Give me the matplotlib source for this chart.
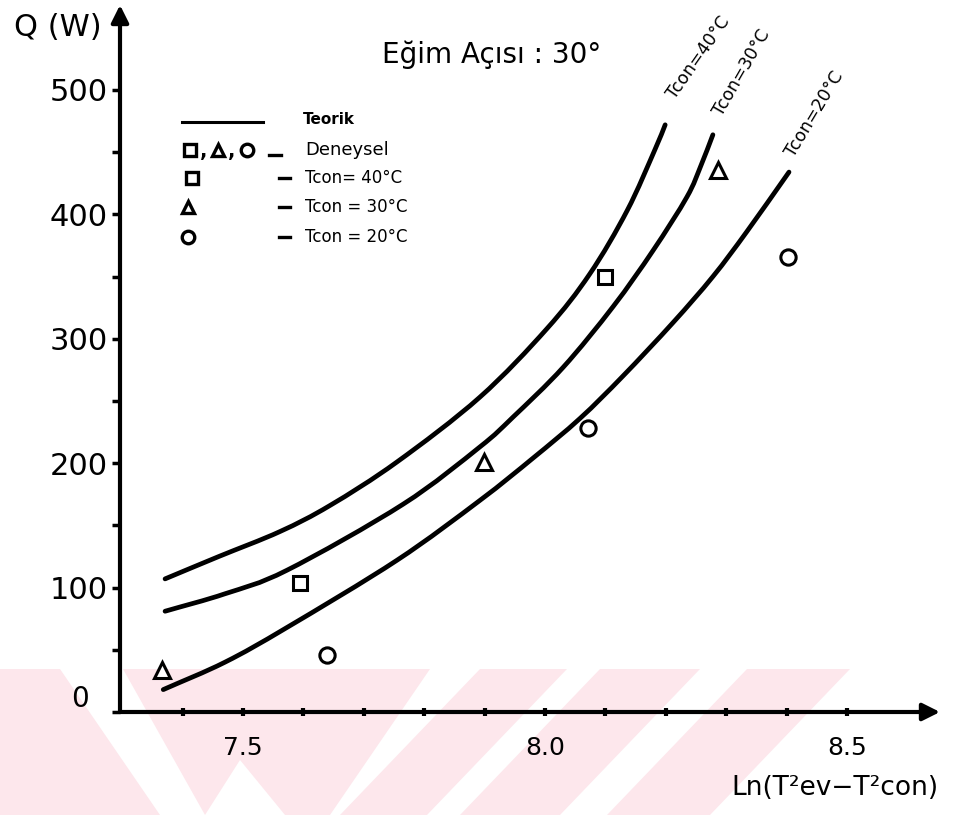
import numpy as np
import matplotlib
matplotlib.use("Agg")
import matplotlib.pyplot as plt
from matplotlib.patches import Polygon, PathPatch
from matplotlib.path import Path

plt.rcParams['font.family'] = ['DejaVu Sans']

# theoretical curves (Teorik), one per condenser temperature
x40 = [7.371, 7.460, 7.561, 7.644, 7.755, 7.892, 8.003, 8.074, 8.136, 8.182, 8.199]
y40 = [107, 125, 145, 166, 201, 253, 308, 352, 403, 452, 472]

x30 = [7.371, 7.470, 7.573, 7.765, 7.892, 7.947, 8.030, 8.113, 8.179, 8.235, 8.258, 8.278]
y30 = [81, 95, 114, 167, 213, 237, 277, 326, 371, 414, 439, 464]

x20 = [7.368, 7.470, 7.573, 7.755, 7.892, 7.980, 8.058, 8.129, 8.212, 8.278, 8.334, 8.404]
y20 = [18, 40, 68, 122, 170, 204, 236, 270, 313, 350, 386, 434]

# experimental points (Deneysel)
sq_x = [7.595, 8.099]
sq_y = [104, 350]
tri_x = [7.366, 7.899, 8.286]
tri_y = [34, 201, 436]
cir_x = [7.639, 8.071, 8.402]
cir_y = [46, 228, 366]

curve_names = ['Tcon=40°C', 'Tcon=30°C', 'Tcon=20°C']
legend_rows = ['Tcon= 40°C', 'Tcon = 30°C', 'Tcon = 20°C']

W, H = 963, 815
fig = plt.figure(figsize=(W / 100, H / 100), dpi=100)
fig.patch.set_facecolor('white')


def fx(px):
    return px / W


def fy(py):
    return 1 - py / H


def smooth_path(xs, ys):
    # Catmull-Rom through the points, written as cubic Bezier segments
    p = np.column_stack([xs, ys]).astype(float)
    p = np.vstack([2 * p[0] - p[1], p, 2 * p[-1] - p[-2]])
    verts = [tuple(p[1])]
    codes = [Path.MOVETO]
    for i in range(1, len(p) - 2):
        c1 = p[i] + (p[i + 1] - p[i - 1]) / 6
        c2 = p[i + 1] - (p[i + 2] - p[i]) / 6
        verts += [tuple(c1), tuple(c2), tuple(p[i + 1])]
        codes += [Path.CURVE4] * 3
    return Path(verts, codes)


# pale pink watermark stripes along the bottom
pink = '#fde7ec'
stripes = [
    [(0, 669), (60, 669), (160, 815), (0, 815)],
    [(123, 669), (430, 669), (330, 815), (285, 815), (240, 760), (205, 815)],
    [(480, 669), (567, 669), (427, 815), (340, 815)],
    [(600, 669), (700, 669), (560, 815), (460, 815)],
    [(747, 669), (850, 669), (710, 815), (607, 815)],
]
for pts in stripes:
    poly = Polygon([(fx(a), fy(b)) for a, b in pts], closed=True,
                   transform=fig.transFigure, facecolor=pink,
                   edgecolor='none', zorder=-1)
    fig.patches.append(poly)

ax = fig.add_axes([fx(120), fy(712), fx(940) - fx(120), fy(5) - fy(712)])
ax.set_facecolor('none')
ax.set_xlim(7.2964, 8.654)
ax.set_ylim(0, 568.3)
for s in ax.spines.values():
    s.set_visible(False)

# axes drawn as arrows
arrow = dict(arrowstyle='-|>', lw=3, color='black', mutation_scale=26,
             shrinkA=0, shrinkB=0)
ax.annotate('', xy=(1, 0), xytext=(0, 0), xycoords='axes fraction', arrowprops=arrow)
ax.annotate('', xy=(0, 1), xytext=(0, 0), xycoords='axes fraction', arrowprops=arrow)

ax.set_xticks([7.5, 8.0, 8.5])
ax.set_xticklabels(['7.5', '8.0', '8.5'])
ax.set_xticks(np.round(np.arange(7.4, 8.55, 0.1), 1), minor=True)
ax.tick_params(axis='x', which='both', direction='inout', length=6, width=3,
               labelsize=18, pad=14)

ax.set_yticks([0, 100, 200, 300, 400, 500])
ax.set_yticklabels(['', '100', '200', '300', '400', '500'])
ax.set_yticks([50, 150, 250, 350, 450], minor=True)
ax.tick_params(axis='y', which='both', direction='out', length=6, width=2.5,
               labelsize=22, pad=3)
ax.text(7.230, 10.5, '0', fontsize=20, ha='center', va='center', clip_on=False)

# theoretical curves
for xs, ys in [(x40, y40), (x30, y30), (x20, y20)]:
    ax.add_patch(PathPatch(smooth_path(xs, ys), facecolor='none', edgecolor='black',
                           lw=3.4, capstyle='round', joinstyle='round'))

# curve tags
tag_pos = [(8.255, 526, 55), (8.326, 514, 60), (8.447, 481, 59)]
for name, (tx, ty, rot) in zip(curve_names, tag_pos):
    ax.text(tx, ty, name, fontsize=12.5, rotation=rot, ha='center', va='center',
            rotation_mode='anchor', clip_on=False)

# experimental markers
mk = dict(linestyle='none', mfc='white', mec='black', mew=2.2)
ax.plot(sq_x, sq_y, marker='s', ms=10, **mk)
ax.plot(tri_x, tri_y, marker='^', ms=11, **mk)
ax.plot(cir_x, cir_y, marker='o', ms=11, **mk)

# legend block
fig.add_artist(plt.Line2D([fx(182), fx(263)], [fy(122), fy(122)], color='black', lw=2.2))
fig.text(fx(303), fy(120), 'Teorik', fontsize=11, fontweight='bold', va='center')

lmk = dict(linestyle='none', mfc='white', mec='black', mew=2.4, ms=9)
fig.add_artist(plt.Line2D([fx(190)], [fy(150)], marker='s', **lmk))
fig.add_artist(plt.Line2D([fx(218)], [fy(150)], marker='^', **lmk))
fig.add_artist(plt.Line2D([fx(247)], [fy(150)], marker='o', **lmk))
fig.text(fx(204), fy(152), ',', fontsize=14, fontweight='bold', ha='center', va='center')
fig.text(fx(232), fy(152), ',', fontsize=14, fontweight='bold', ha='center', va='center')
fig.add_artist(plt.Line2D([fx(269), fx(281)], [fy(155), fy(155)], color='black', lw=2.4))

fig.text(fx(305), fy(150), 'Deneysel', fontsize=13, va='center')

row_y = [178, 207, 237]
row_mk = ['s', '^', 'o']
row_x = [192, 188, 188]
for label, py, m, mx in zip(legend_rows, row_y, row_mk, row_x):
    fig.add_artist(plt.Line2D([fx(mx)], [fy(py)], marker=m, **lmk))
    fig.add_artist(plt.Line2D([fx(279), fx(290)], [fy(py), fy(py)], color='black', lw=2.4))
    fig.text(fx(305), fy(py), label, fontsize=12, va='center')

# titles and axis names
fig.text(fx(492), fy(55), 'Eğim Açısı : 30°', fontsize=20, ha='center', va='center')
fig.text(fx(58), fy(28), 'Q (W)', fontsize=22, ha='center', va='center')
fig.text(fx(835), fy(788), 'Ln(T²ev−T²con)', fontsize=19, ha='center', va='center')

fig.savefig('out.png', dpi=100)
